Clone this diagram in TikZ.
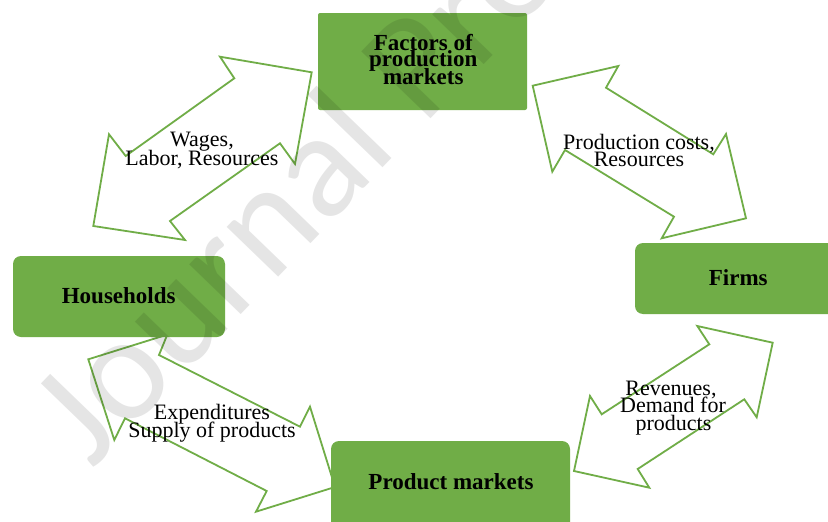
\documentclass[tikz,border=0pt]{standalone}
\usepackage{fontspec}
\setmainfont{Liberation Serif}
\newfontfamily\wmfont{Carlito}
\definecolor{grn}{HTML}{70AD47}
\begin{document}
\begin{tikzpicture}[x=1pt,y=-1pt,
  blockarrow/.style={draw=grn, line width=1.8pt, fill=white, line join=miter},
  box/.style={fill=grn, draw=none, inner sep=0pt},
  boxlbl/.style={font=\fontsize{23}{17}\selectfont\bfseries, anchor=base, inner sep=0pt},
  lbl/.style={font=\fontsize{22}{18}\selectfont, anchor=base, inner sep=0pt}]
\useasboundingbox (0,0) rectangle (828,522);
\clip (0,0) rectangle (828,522);
\fill[white] (0,0) rectangle (828,522);

% block arrows
\draw[blockarrow] (311.7,72.3) -- (220,56.7) -- (234.3,78.3) -- (125.7,156) -- (109,134.3) -- (93.3,226) -- (185,240) -- (170,221) -- (280,143.3) -- (295,164) -- cycle;
\draw[blockarrow] (532.7,85.7) -- (618.3,66) -- (606,87.7) -- (713.3,154.3) -- (726,134) -- (746,218.3) -- (661.7,238.3) -- (674,216.7) -- (565,150) -- (552.3,171.7) -- cycle;
\draw[blockarrow] (88.3,359.3) -- (167.3,334.6) -- (159,355) -- (300,426.7) -- (310,406.7) -- (335,487) -- (256,511.7) -- (266.7,491) -- (125,418.3) -- (114.3,440) -- cycle;
\draw[blockarrow] (772.7,342.7) -- (697.3,326) -- (709.3,344.3) -- (601.7,414.3) -- (590,396) -- (574,471) -- (649.3,487.7) -- (637.7,469) -- (744.3,399.3) -- (756.7,417.3) -- cycle;

% boxes
\node[box, rounded corners=2pt, minimum width=209pt, minimum height=97pt] (fac) at (422.5,61.5) {};
\node[box, rounded corners=8pt, minimum width=212pt, minimum height=81pt] (hh) at (119,296.5) {};
\node[box, rounded corners=8pt, minimum width=205pt, minimum height=71pt] (firms) at (737.5,278.5) {};
\node[box, rounded corners=8pt, minimum width=239pt, minimum height=94pt] (prod) at (450.5,488) {};

% box labels
\node[boxlbl] (fac1) at (423.3,50) {Factors of};
\node[boxlbl] (fac2) at (423.3,66.7) {production};
\node[boxlbl] (fac3) at (423.3,84) {markets};
\node[boxlbl] (hhl) at (118.7,303.3) {Households};
\node[boxlbl] (firmsl) at (738.3,285) {Firms};
\node[boxlbl] (prodl) at (451,489.3) {Product markets};

% arrow labels
\node[lbl] (w1) at (202,146.7) {Wages,};
\node[lbl] (w2) at (202,165) {Labor, Resources};
\node[lbl] (p1) at (639,149.3) {Production costs,};
\node[lbl] (p2) at (639,166.7) {Resources};
\node[lbl] (e1) at (212,419.3) {Expenditures};
\node[lbl] (e2) at (212,437.3) {Supply of products};
\node[lbl] (r1) at (671,395) {Revenues,};
\node[lbl] (r2) at (673,412.7) {Demand for};
\node[lbl] (r3) at (673.5,430) {products};

% watermark
\node[font=\wmfont\fontsize{150}{150}\selectfont, text=black, text opacity=0.1, rotate=46, anchor=base west, inner sep=0pt] (wm) at (92,470) {Journal Pre-proof};
\end{tikzpicture}
\end{document}
